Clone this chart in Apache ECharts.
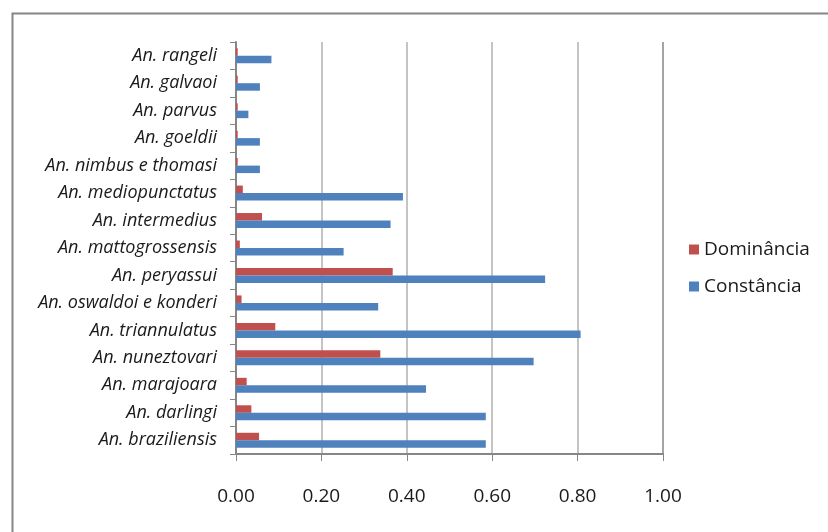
<!DOCTYPE html>
<html>
<head>
<meta charset="utf-8">
<style>
  html, body { margin: 0; padding: 0; background: #ffffff; }
  #chart { width: 828px; height: 532px; }
</style>
<script src="https://cdn.jsdelivr.net/npm/echarts@6/dist/echarts.min.js"></script>
</head>
<body>
<div id="chart"></div>
<script>
// Species, listed from the bottom of the axis to the top
const species = [
  'An. braziliensis',
  'An. darlingi',
  'An. marajoara',
  'An. nuneztovari',
  'An. triannulatus',
  'An. oswaldoi e konderi',
  'An. peryassui',
  'An. mattogrossensis',
  'An. intermedius',
  'An. mediopunctatus',
  'An. nimbus e thomasi',
  'An. goeldii',
  'An. parvus',
  'An. galvaoi',
  'An. rangeli'
];

// Dominance index per species
const dominancia = [0.054, 0.036, 0.025, 0.338, 0.092, 0.013, 0.367, 0.009, 0.061, 0.016, 0.004, 0.004, 0.004, 0.004, 0.004];

// Constancy index per species
const constancia = [0.585, 0.585, 0.445, 0.697, 0.807, 0.333, 0.724, 0.252, 0.362, 0.391, 0.056, 0.056, 0.029, 0.056, 0.083];

const xTicks = { min: 0, max: 1, interval: 0.2 };

const FONT = '"Open Sans", Lato, sans-serif';

const chart = echarts.init(document.getElementById('chart'), null, { renderer: 'canvas' });

chart.setOption({
  animation: false,
  backgroundColor: '#ffffff',
  textStyle: { fontFamily: FONT },
  graphic: [{
    type: 'rect',
    left: 10,
    top: 11,
    shape: { x: 0, y: 0, width: 830, height: 540 },
    style: { fill: 'none', stroke: '#868686', lineWidth: 2 },
    silent: true,
    z: 100
  }],
  grid: {
    left: 236,
    right: 165,
    top: 42,
    bottom: 78,
    containLabel: false
  },
  legend: {
    orient: 'vertical',
    left: 689,
    top: 240,
    padding: 0,
    icon: 'rect',
    itemWidth: 10,
    itemHeight: 10,
    itemGap: 18,
    textStyle: { fontFamily: FONT, fontSize: 19, color: '#1a1a1a' },
    data: ['Dominância', 'Constância']
  },
  xAxis: {
    type: 'value',
    min: xTicks.min,
    max: xTicks.max,
    interval: xTicks.interval,
    axisLine: { show: true, lineStyle: { color: '#868686', width: 2 } },
    axisTick: { show: true, length: 7, lineStyle: { color: '#868686', width: 1 } },
    axisLabel: {
      margin: 33,
      fontFamily: FONT,
      fontSize: 19,
      color: '#1a1a1a',
      formatter: v => v.toFixed(2)
    },
    splitLine: {
      show: true,
      lineStyle: {
        color: ['#b0b0b0', '#b0b0b0', '#b0b0b0', '#b0b0b0', '#b0b0b0', '#868686'],
        width: 1.5
      }
    }
  },
  yAxis: {
    type: 'category',
    data: species,
    axisLine: { show: true, lineStyle: { color: '#868686', width: 2 } },
    axisTick: { show: true, length: 6, alignWithLabel: false, lineStyle: { color: '#868686', width: 1 } },
    axisLabel: {
      margin: 19,
      fontFamily: FONT,
      fontStyle: 'italic',
      fontSize: 18,
      color: '#1a1a1a'
    },
    splitLine: { show: false }
  },
  series: [
    {
      name: 'Dominância',
      type: 'bar',
      data: dominancia,
      barWidth: 7.5,
      barGap: '0%',
      itemStyle: { color: '#c0504d' }
    },
    {
      name: 'Constância',
      type: 'bar',
      data: constancia,
      barWidth: 7.5,
      barGap: '0%',
      itemStyle: { color: '#4f81bd' }
    }
  ]
});
</script>
</body>
</html>
